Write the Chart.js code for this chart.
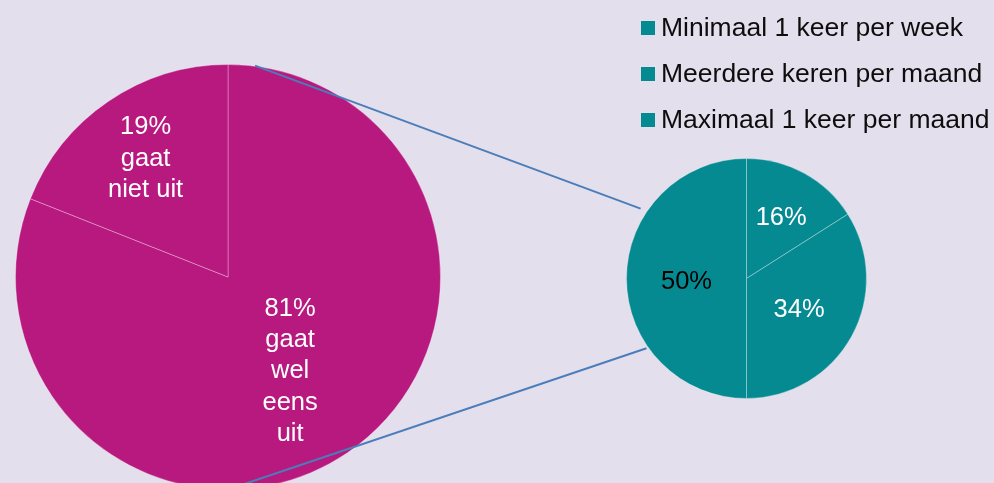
<!DOCTYPE html>
<html>
<head>
<meta charset="utf-8">
<script src="https://cdn.jsdelivr.net/npm/chart.js@4.4.1/dist/chart.umd.min.js"></script>
<style>
    html, body { margin: 0; padding: 0; background: #e4dfec; overflow: hidden; }
    #wrap { position: relative; width: 994px; height: 483px; overflow: hidden; background: #e4dfec; }
    #wrap canvas { position: absolute; left: 0; top: 0; }
</style>
</head>
<body>
<div id="wrap">
    <canvas id="big-pie" width="994" height="500"></canvas>
    <canvas id="small-pie" width="994" height="483"></canvas>
</div>
<script>
// Big pie: does the respondent go out at all
const bigLabels = ['Gaat wel eens uit', 'Gaat niet uit'];
const bigValues = [81, 19];
const bigLabelLines = [['gaat', 'wel', 'eens', 'uit'], ['gaat', 'niet uit']];

// Small pie: how often (of those who go out)
const smallLabels = ['Minimaal 1 keer per week', 'Meerdere keren per maand', 'Maximaal 1 keer per maand'];
const smallValues = [16, 34, 50];

const LABEL_FONT = '25.5px "Liberation Sans", Arial, sans-serif';
const LEGEND_FONT = '26.5px "Liberation Sans", Arial, sans-serif';
const MAGENTA = '#b8197f';
const TEAL = '#068a92';

// Text inside slices, placed along the slice's middle angle
const sliceLabels = {
    id: 'sliceLabels',
    afterDatasetsDraw(chart, args, opts) {
        const ctx = chart.ctx;
        const meta = chart.getDatasetMeta(0);
        const values = chart.data.datasets[0].data;
        ctx.save();
        ctx.font = LABEL_FONT;
        ctx.textAlign = 'center';
        ctx.textBaseline = 'middle';
        meta.data.forEach((arc, i) => {
            const { x, y, startAngle, endAngle, outerRadius } = arc.getProps(['x', 'y', 'startAngle', 'endAngle', 'outerRadius'], true);
            const mid = (startAngle + endAngle) / 2;
            const r = outerRadius * opts.radius[i];
            const cx = x + Math.cos(mid) * r;
            const cy = y + Math.sin(mid) * r + 3;
            const lines = [values[i] + '%'].concat(opts.extra ? opts.extra[i] : []);
            ctx.fillStyle = opts.colors[i];
            lines.forEach((ln, j) => {
                ctx.fillText(ln, cx, cy + (j - (lines.length - 1) / 2) * opts.lineHeight);
            });
        });
        ctx.restore();
    }
};

let bigChart = null;

// Legend (top right) + connector lines from the big pie to the small one
const smallExtras = {
    id: 'smallExtras',
    afterDraw(chart) {
        const ctx = chart.ctx;
        const ds = chart.data.datasets[0];
        ctx.save();
        ctx.font = LEGEND_FONT;
        ctx.textBaseline = 'middle';
        ctx.textAlign = 'left';
        chart.data.labels.forEach((lbl, i) => {
            const y = 28 + i * 46;
            ctx.fillStyle = Array.isArray(ds.backgroundColor) ? ds.backgroundColor[i] : ds.backgroundColor;
            ctx.fillRect(641, y - 7, 14, 14);
            ctx.fillStyle = '#0d0d0d';
            ctx.fillText(lbl, 661, y + 1);
        });

        if (bigChart) {
            const a = bigChart.getDatasetMeta(0).data[0];
            const b = chart.getDatasetMeta(0).data[0];
            // angle in degrees clockwise from 12 o'clock
            const pt = (arc, deg, f) => {
                const t = deg * Math.PI / 180;
                return [arc.x + Math.sin(t) * arc.outerRadius * f, arc.y - Math.cos(t) * arc.outerRadius * f];
            };
            const segs = [
                [pt(a, 7.3, 1.003), pt(b, 303.4, 1.057)],
                [pt(a, 180, 1.0), pt(b, 235.1, 1.016)]
            ];
            ctx.strokeStyle = '#4a7ebb';
            ctx.lineWidth = 2;
            segs.forEach(([p, q]) => {
                ctx.beginPath();
                ctx.moveTo(p[0], p[1]);
                ctx.lineTo(q[0], q[1]);
                ctx.stroke();
            });
        }
        ctx.restore();
    }
};

bigChart = new Chart(document.getElementById('big-pie').getContext('2d'), {
    type: 'pie',
    data: {
        labels: bigLabels,
        datasets: [{
            data: bigValues,
            backgroundColor: MAGENTA,
            borderColor: 'rgba(255,255,255,0.3)',
            borderWidth: 1,
            hoverOffset: 0
        }]
    },
    options: {
        responsive: false,
        animation: false,
        events: [],
        layout: { padding: { left: 15, right: 553, top: 64, bottom: 10 } },
        plugins: {
            legend: { display: false },
            tooltip: { enabled: false },
            sliceLabels: {
                radius: [0.52, 0.69],
                colors: ['#ffffff', '#ffffff'],
                extra: bigLabelLines,
                lineHeight: 31.3
            }
        }
    },
    plugins: [sliceLabels]
});

new Chart(document.getElementById('small-pie').getContext('2d'), {
    type: 'pie',
    data: {
        labels: smallLabels,
        datasets: [{
            data: smallValues,
            backgroundColor: [TEAL, TEAL, TEAL],
            borderColor: 'rgba(255,255,255,0.3)',
            borderWidth: 1,
            hoverOffset: 0
        }]
    },
    options: {
        responsive: false,
        animation: false,
        events: [],
        layout: { padding: { left: 626, right: 127, top: 158, bottom: 84 } },
        plugins: {
            legend: { display: false },
            tooltip: { enabled: false },
            sliceLabels: {
                radius: [0.6, 0.5, 0.5],
                colors: ['#ffffff', '#ffffff', '#000000'],
                lineHeight: 31
            }
        }
    },
    plugins: [sliceLabels, smallExtras]
});
</script>
</body>
</html>
